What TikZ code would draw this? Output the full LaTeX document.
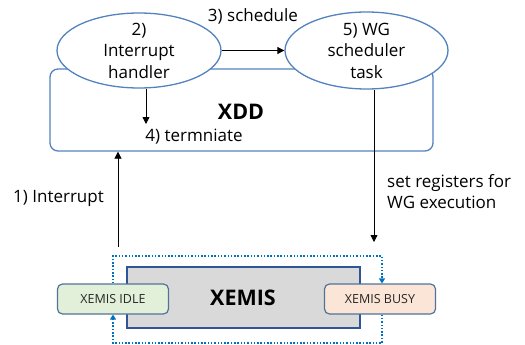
\documentclass[tikz,border=0pt]{standalone}
\usepackage{fontspec}
\setmainfont{Open Sans}
\usetikzlibrary{arrows.meta,shapes.geometric}
\definecolor{edgeblue}{RGB}{84,130,190}
\definecolor{dotblue}{RGB}{0,112,192}
\definecolor{boxedge}{RGB}{47,85,151}
\definecolor{stateedge}{RGB}{80,115,155}
\definecolor{idlefill}{RGB}{226,240,217}
\definecolor{busyfill}{RGB}{251,229,214}
\definecolor{corefill}{RGB}{217,217,217}
\begin{document}
\begin{tikzpicture}[x=1pt,y=-1pt,
  txt/.style={font=\fontsize{17}{21.5}\selectfont, inner sep=0pt, align=center},
  bigtxt/.style={font=\fontsize{21.5}{24}\selectfont\bfseries, inner sep=0pt},
  smalltxt/.style={font=\fontsize{12.5}{15}\selectfont, text=black!85},
  oval/.style={ellipse, draw=edgeblue, line width=1.3pt, fill=white, inner sep=0pt},
  arr/.style={-{Triangle[length=7pt,width=7pt]}, line width=0.8pt, black},
  loop/.style={dotblue, line width=1.8pt, dash pattern=on 1.5pt off 1.8pt},
  looparr/.style={loop, -{Triangle[length=5pt,width=6pt]}},
  state/.style={draw=stateedge, line width=1.2pt, rounded corners=5pt, minimum width=111pt, minimum height=30pt, inner sep=0pt, smalltxt}
]
\useasboundingbox (0,0) rectangle (525,345);

% driver block
\node[draw=edgeblue, line width=1.3pt, rounded corners=8pt, minimum width=383pt, minimum height=82pt, inner sep=0pt] (xdd) at (241.5,110) {};
\node[bigtxt] (xddlbl) at (241,112) {XDD};

% handler and scheduler ovals
\node[oval, minimum width=164pt, minimum height=75pt] (ih) at (139,50.5) {};
\node[txt] (ihlbl) at (ih) {2)\\Interrupt\\handler};
\node[oval, minimum width=163pt, minimum height=77pt] (wg) at (366.5,50.5) {};
\node[txt] (wglbl) at (wg) {5) WG\\scheduler\\task};

\draw[arr] (ih.east) -- (wg.west);
\node[txt] (sched) at (253,16) {3) schedule};

% terminate
\coordinate (tin) at (146,124);
\draw[arr] (ih.south -| tin) -- (tin);
\node[txt] (term) at (194,137) {4) termniate};

% hardware block
\node[draw=boxedge, line width=1.2pt, fill=corefill, minimum width=233pt, minimum height=61pt, inner sep=0pt] (xemis) at (243.5,297.5) {};
\node[bigtxt] (xemislbl) at (243,298) {XEMIS};
\node[state, fill=idlefill] (idle) at (113,299) {XEMIS IDLE};
\node[state, fill=busyfill] (busy) at (380,299) {XEMIS BUSY};

% interrupt path
\coordinate (irqsrc) at (118,247);
\draw[arr] (irqsrc) -- (xdd.south -| irqsrc);
\node[txt, anchor=west] (irq) at (13,198) {1) Interrupt};

% register setup path
\coordinate (regdst) at (374,242);
\draw[arr] (wg.south -| regdst) -- (regdst);
\node[txt, anchor=north west, align=left] (regs) at (387,174) {set registers for\\WG execution};

% state loop
\coordinate (lt) at (113,256);
\coordinate (rt) at (382,256);
\coordinate (lb) at (113,343);
\coordinate (rb) at (382,343);
\draw[looparr] (idle.north -| lt) -- (lt) -- (rt) -- (busy.north -| rt);
\draw[looparr] (busy.south -| rb) -- (rb) -- (lb) -- (idle.south -| lb);
\end{tikzpicture}
\end{document}
